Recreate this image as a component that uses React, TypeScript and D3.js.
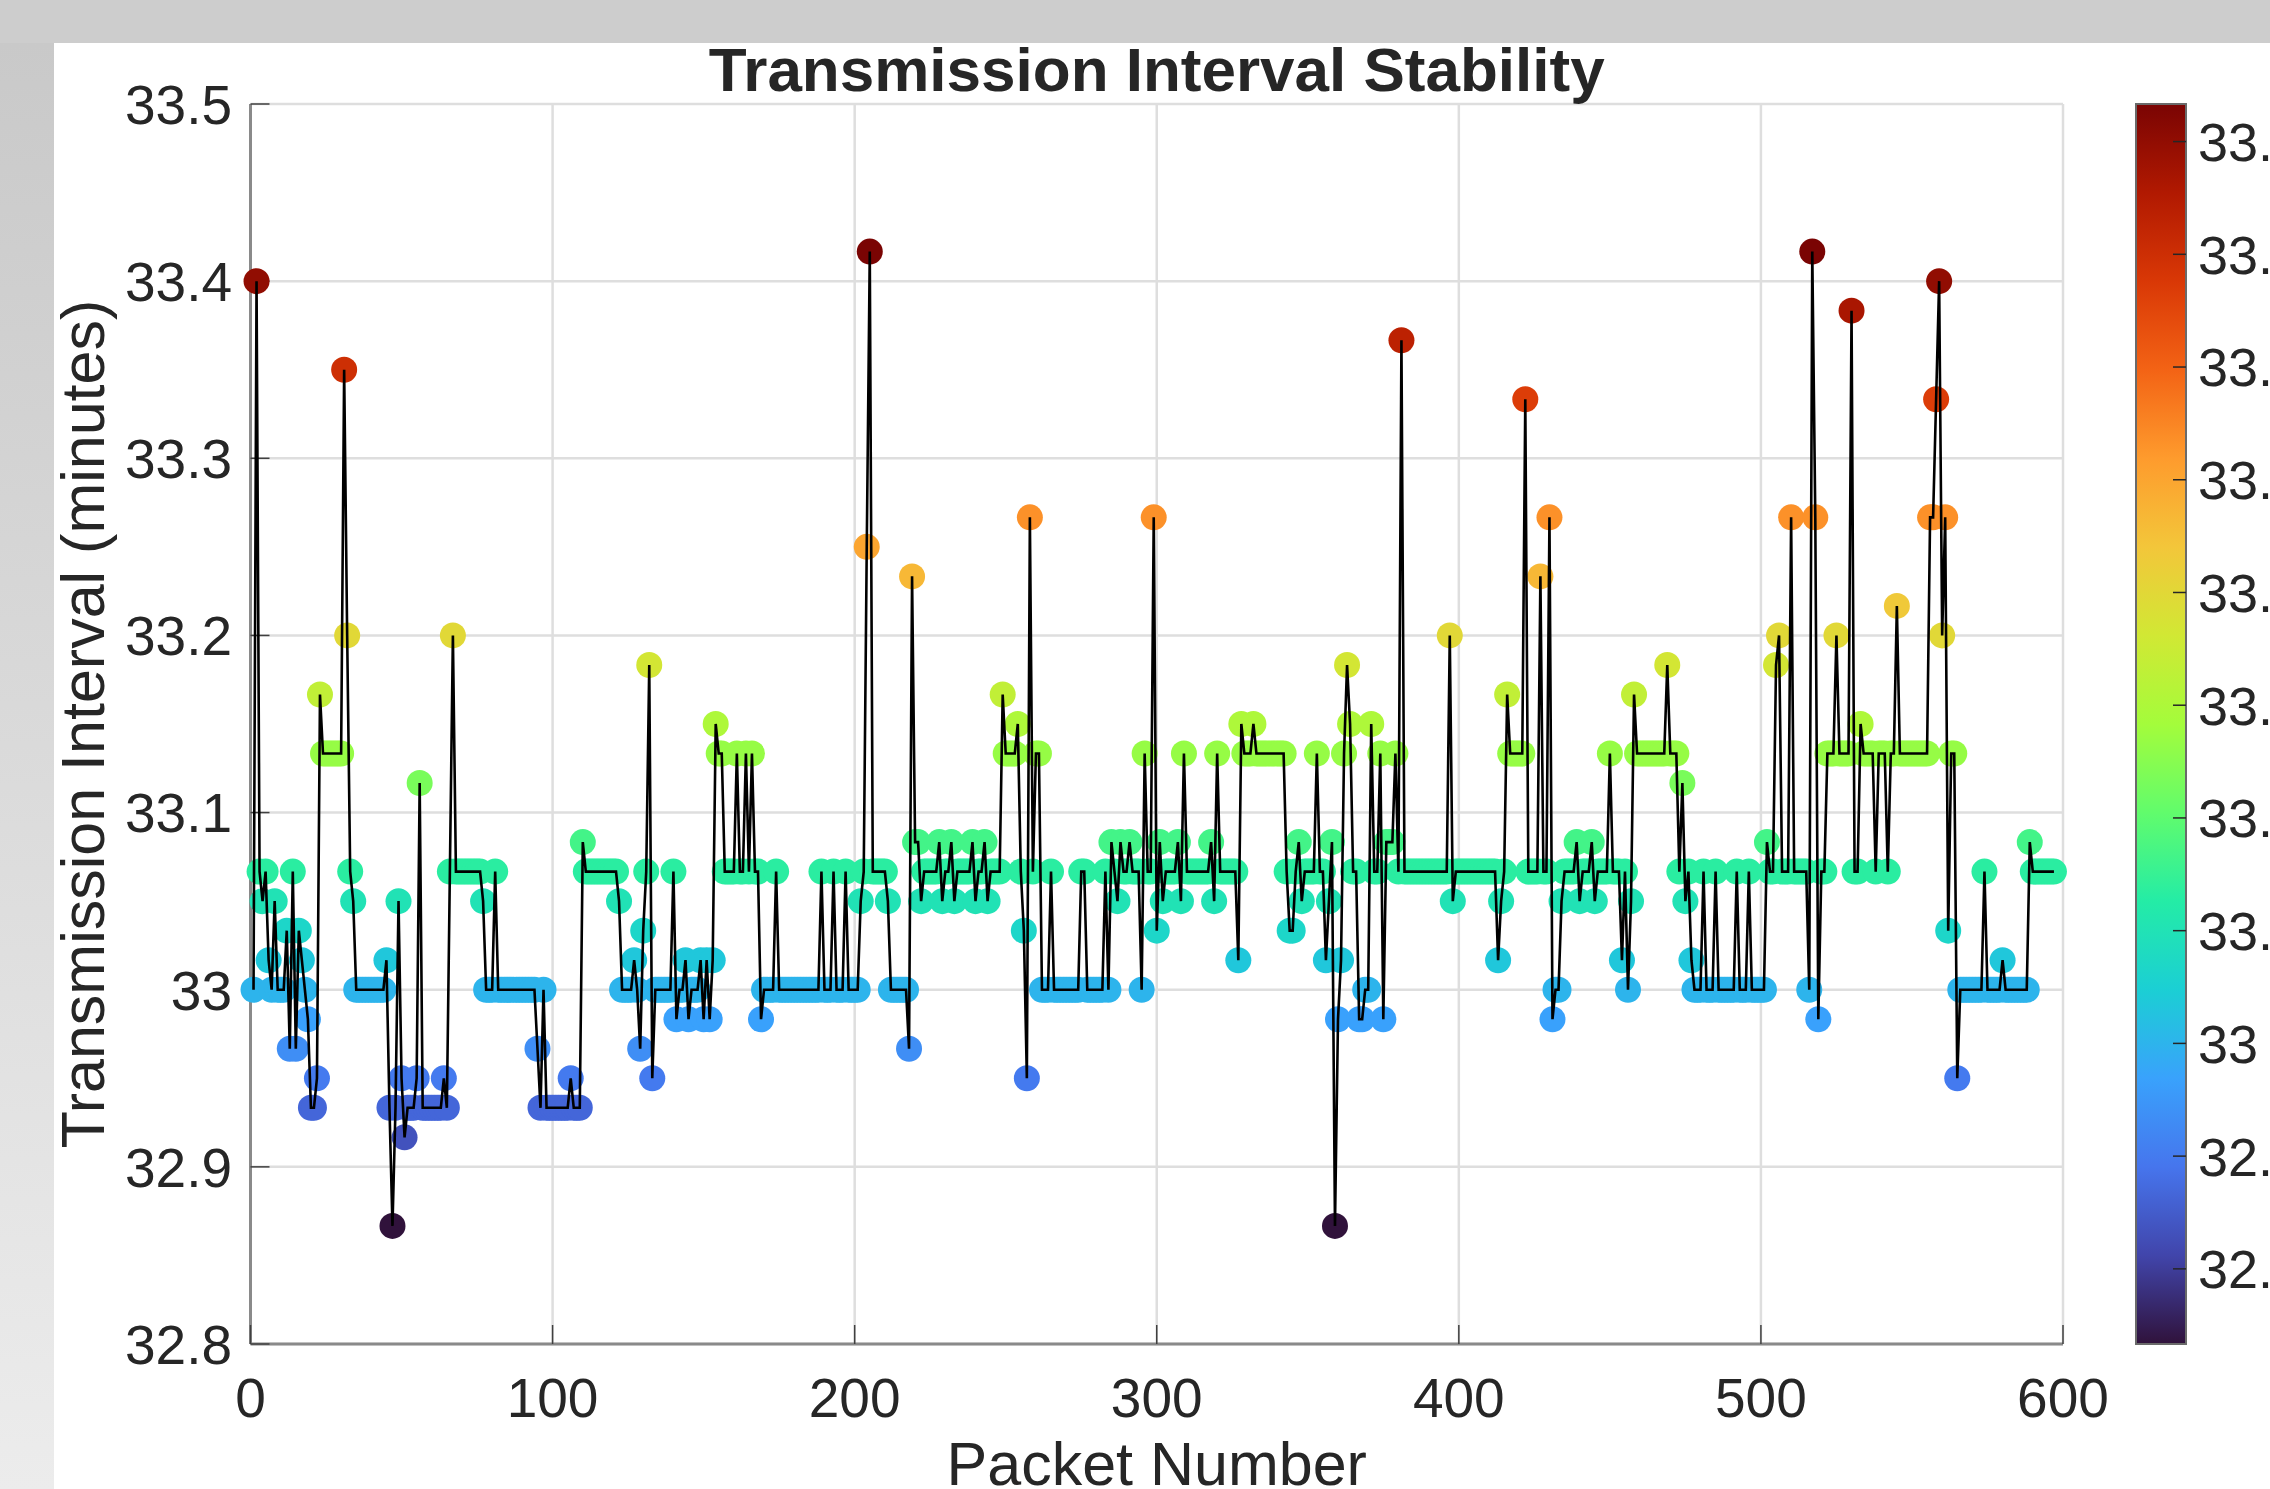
import React from "react";
import * as d3 from "d3";

// Transmission interval per packet, as seconds away from 33:00 min.
// One value per packet, packets numbered from 1.
const offsetSec001to100 = [
  0, 24, 4, 3, 4, 1, 0, 3, 0, 0,
  0, 2, -2, 4, -2, 2, 1, 0, -1, -4,
  -4, -3, 10, 8, 8, 8, 8, 8, 8, 8,
  21, 12, 4, 3, 0, 0, 0, 0, 0, 0,
  0, 0, 0, 0, 1, -4, -8, -4, 3, -3,
  -5, -4, -4, -4, -3, 7, -4, -4, -4, -4,
  -4, -4, -4, -3, -4, 4, 12, 4, 4, 4,
  4, 4, 4, 4, 4, 4, 3, 0, 0, 0,
  4, 0, 0, 0, 0, 0, 0, 0, 0, 0,
  0, 0, 0, 0, -2, -4, 0, -4, -4, -4,
];
const offsetSec101to200 = [
  -4, -4, -4, -4, -4, -3, -4, -4, -4, 5,
  4, 4, 4, 4, 4, 4, 4, 4, 4, 4,
  4, 3, 0, 0, 0, 0, 1, 0, -2, 2,
  4, 11, -3, 0, 0, 0, 0, 0, 0, 4,
  -1, 0, 0, 1, -1, 0, 0, 0, 1, -1,
  1, -1, 1, 9, 8, 8, 4, 4, 4, 4,
  8, 4, 4, 8, 4, 8, 4, 4, -1, 0,
  0, 0, 0, 4, 0, 0, 0, 0, 0, 0,
  0, 0, 0, 0, 0, 0, 0, 0, 4, 0,
  0, 0, 4, 0, 0, 0, 4, 0, 0, 0,
];
const offsetSec201to300 = [
  0, 3, 4, 15, 25, 4, 4, 4, 4, 4,
  3, 0, 0, 0, 0, 0, 0, -2, 14, 5,
  5, 3, 4, 4, 4, 4, 4, 5, 3, 4,
  4, 5, 3, 4, 4, 4, 4, 4, 5, 3,
  4, 4, 5, 3, 4, 4, 4, 4, 10, 8,
  8, 8, 8, 9, 4, 2, -3, 16, 4, 8,
  8, 0, 0, 0, 4, 0, 0, 0, 0, 0,
  0, 0, 0, 0, 4, 4, 0, 0, 0, 0,
  0, 0, 4, 0, 5, 4, 3, 5, 4, 4,
  5, 4, 4, 4, 0, 8, 4, 4, 16, 2,
];
const offsetSec301to400 = [
  5, 3, 4, 4, 4, 4, 5, 3, 8, 4,
  4, 4, 4, 4, 4, 4, 4, 5, 3, 8,
  4, 4, 4, 4, 4, 4, 1, 9, 8, 8,
  8, 9, 8, 8, 8, 8, 8, 8, 8, 8,
  8, 8, 4, 2, 2, 4, 5, 3, 4, 4,
  4, 4, 8, 4, 4, 1, 3, 5, -8, -1,
  1, 8, 11, 9, 4, 4, -1, -1, 0, 0,
  9, 4, 4, 8, -1, 5, 5, 5, 8, 4,
  22, 4, 4, 4, 4, 4, 4, 4, 4, 4,
  4, 4, 4, 4, 4, 4, 12, 3, 4, 4,
];
const offsetSec401to500 = [
  4, 4, 4, 4, 4, 4, 4, 4, 4, 4,
  4, 4, 1, 3, 4, 10, 8, 8, 8, 8,
  8, 20, 4, 4, 4, 4, 14, 4, 4, 16,
  -1, 0, 0, 3, 4, 4, 4, 4, 5, 3,
  4, 4, 4, 5, 3, 4, 4, 4, 4, 8,
  4, 4, 4, 1, 4, 0, 3, 10, 8, 8,
  8, 8, 8, 8, 8, 8, 8, 8, 11, 8,
  8, 8, 4, 7, 3, 4, 1, 0, 0, 0,
  4, 0, 0, 0, 4, 0, 0, 0, 0, 0,
  0, 4, 0, 0, 0, 4, 0, 0, 0, 0,
];
const offsetSec501to597 = [
  0, 5, 4, 4, 11, 12, 4, 4, 4, 16,
  4, 4, 4, 4, 4, 0, 25, 16, -1, 4,
  4, 8, 8, 8, 12, 8, 8, 8, 8, 23,
  4, 4, 9, 8, 8, 8, 8, 4, 8, 8,
  8, 4, 8, 8, 13, 8, 8, 8, 8, 8,
  8, 8, 8, 8, 8, 16, 16, 20, 24, 12,
  16, 2, 8, 8, -3, 0, 0, 0, 0, 0,
  0, 0, 0, 4, 0, 0, 0, 0, 0, 1,
  0, 0, 0, 0, 0, 0, 0, 0, 5, 4,
  4, 4, 4, 4, 4, 4, 4,
];

const baseMinutes = 33;

const xTicks = [0, 100, 200, 300, 400, 500, 600];
const yTicks = [32.8, 32.9, 33, 33.1, 33.2, 33.3, 33.4, 33.5];
const colorbarTicks = [32.9, 32.95, 33, 33.05, 33.1, 33.15, 33.2, 33.25, 33.3, 33.35, 33.4];

// turbo colormap, sampled
const turbo = [
  "#30123b", "#4145ab", "#4675ed", "#39a2fc", "#1bcfd4",
  "#24eca6", "#61fc6c", "#a4fc3b", "#d1e834", "#f3c63a",
  "#fe9b2d", "#f36315", "#d93806", "#b11901", "#7a0403",
];

type Datum = { packet: number; minutes: number };

const W = 2270,
  H = 1489;
const plot = { left: 250.5, right: 2063, top: 104, bottom: 1344 };
const cbar = { left: 2136, right: 2186 };
const font = "'Liberation Sans', Arial, Helvetica, sans-serif";
const textColor = "#262626";

const fmt = (v: number) => String(+v.toFixed(2));

export default function App() {
  const offsets = [
    ...offsetSec001to100,
    ...offsetSec101to200,
    ...offsetSec201to300,
    ...offsetSec301to400,
    ...offsetSec401to500,
    ...offsetSec501to597,
  ];
  const data: Datum[] = offsets.map((s, i) => ({
    packet: i + 1,
    minutes: baseMinutes + s / 60,
  }));

  const x = d3.scaleLinear().domain([0, 600]).range([plot.left, plot.right]);
  const y = d3.scaleLinear().domain([32.8, 33.5]).range([plot.bottom, plot.top]);

  const [vmin, vmax] = d3.extent(data, (d) => d.minutes) as [number, number];
  const color = d3
    .scaleLinear<string>()
    .domain(turbo.map((_, i) => vmin + ((vmax - vmin) * i) / (turbo.length - 1)))
    .range(turbo)
    .interpolate(d3.interpolateRgb);
  const cy = d3.scaleLinear().domain([vmin, vmax]).range([plot.bottom, plot.top]);

  const line = d3
    .line<Datum>()
    .x((d) => x(d.packet))
    .y((d) => y(d.minutes));

  return (
    <>
      <style>{`body{margin:0;}`}</style>
      <svg width={W} height={H} style={{ display: "block" }} fontFamily={font}>
        <defs>
          <linearGradient id="leftband" x1="0" y1="0" x2="0" y2="1">
            <stop offset="0" stopColor="#c9c9c9" />
            <stop offset="1" stopColor="#ececec" />
          </linearGradient>
          <linearGradient id="cbar" x1="0" y1="1" x2="0" y2="0">
            {turbo.map((c, i) => (
              <stop key={i} offset={i / (turbo.length - 1)} stopColor={c} />
            ))}
          </linearGradient>
        </defs>

        {/* window background */}
        <rect x={0} y={0} width={W} height={H} fill="#ffffff" />
        <rect x={0} y={0} width={W} height={43} fill="#cdcdcd" />
        <rect x={0} y={43} width={54} height={H - 43} fill="url(#leftband)" />

        {/* grid */}
        <g stroke="#dedede" strokeWidth={2.5}>
          {xTicks.map((t) => (
            <line key={"gx" + t} x1={x(t)} x2={x(t)} y1={plot.top} y2={plot.bottom} />
          ))}
          {yTicks.map((t) => (
            <line key={"gy" + t} x1={plot.left} x2={plot.right} y1={y(t)} y2={y(t)} />
          ))}
        </g>

        {/* axes */}
        <g>
          <line x1={plot.left} x2={plot.left} y1={plot.top} y2={plot.bottom} stroke="#8a8a8a" strokeWidth={3} />
          <line x1={plot.left} x2={plot.right} y1={plot.bottom} y2={plot.bottom} stroke="#8a8a8a" strokeWidth={3} />
          {yTicks.map((t) => (
            <line key={"ty" + t} x1={plot.left} x2={plot.left + 19} y1={y(t)} y2={y(t)} stroke="#404040" strokeWidth={1.5} />
          ))}
          {xTicks.map((t) => (
            <line key={"tx" + t} x1={x(t)} x2={x(t)} y1={plot.bottom} y2={plot.bottom - 19} stroke="#404040" strokeWidth={1.5} />
          ))}
        </g>

        {/* markers */}
        <g>
          {data.map((d) => (
            <circle key={d.packet} cx={x(d.packet)} cy={y(d.minutes)} r={13} fill={color(d.minutes)} />
          ))}
        </g>
        <path d={line(data) ?? ""} fill="none" stroke="#000" strokeWidth={2.6} />

        {/* tick labels */}
        <g fill={textColor} fontSize={55}>
          {yTicks.map((t) => (
            <text key={"ly" + t} x={232} y={y(t)} dy="0.36em" textAnchor="end">
              {fmt(t)}
            </text>
          ))}
          {xTicks.map((t) => (
            <text key={"lx" + t} x={x(t)} y={1417} textAnchor="middle">
              {fmt(t)}
            </text>
          ))}
        </g>

        {/* axis labels and title */}
        <text x={(plot.left + plot.right) / 2} y={1485} textAnchor="middle" fontSize={61} fill={textColor}>
          Packet Number
        </text>
        <text
          transform={`translate(104, ${(plot.top + plot.bottom) / 2}) rotate(-90)`}
          textAnchor="middle"
          fontSize={61}
          fill={textColor}
        >
          Transmission Interval (minutes)
        </text>
        <text
          x={(plot.left + plot.right) / 2}
          y={91}
          textAnchor="middle"
          fontSize={62}
          fontWeight="bold"
          fill={textColor}
        >
          Transmission Interval Stability
        </text>

        {/* colorbar */}
        <rect
          x={cbar.left}
          y={plot.top}
          width={cbar.right - cbar.left}
          height={plot.bottom - plot.top}
          fill="url(#cbar)"
          stroke="#6a6a6a"
          strokeWidth={2}
        />
        {colorbarTicks.map((t) => (
          <g key={"cb" + t}>
            <line x1={cbar.right - 13} x2={cbar.right} y1={cy(t)} y2={cy(t)} stroke="#262626" strokeWidth={1.5} />
            <text x={2198} y={cy(t)} dy="0.36em" fontSize={54} fill={textColor}>
              {fmt(t)}
            </text>
          </g>
        ))}
      </svg>
    </>
  );
}
